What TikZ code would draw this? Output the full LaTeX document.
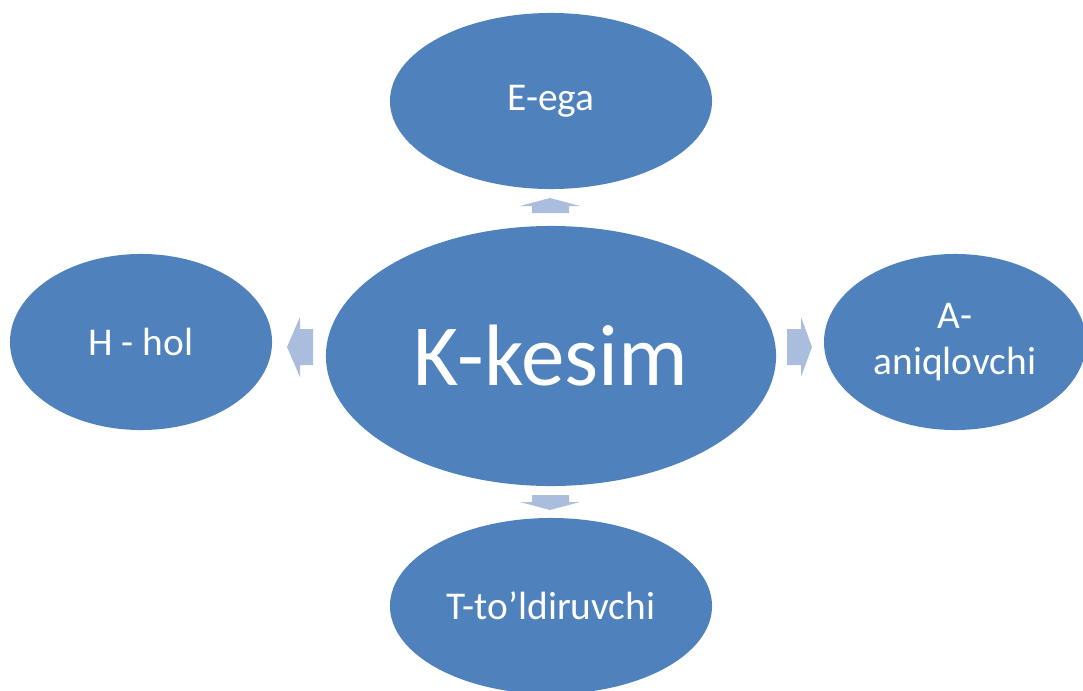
\documentclass[tikz,border=0pt]{standalone}
\usepackage{fontspec}
\setmainfont{Carlito}
\usetikzlibrary{
    positioning,           % Relative positioning
    shapes.geometric       % Ellipses
}
\definecolor{bubbleblue}{RGB}{79,129,189}
\definecolor{arrowblue}{RGB}{170,189,221}
\tikzset{
    bubble/.style={ellipse, fill=bubbleblue, text=white, inner sep=0pt,
        align=center, font=\fontsize{28}{33}\selectfont},
    blockarrow/.style={fill=arrowblue}
}

\begin{document}
\begin{tikzpicture}[x=0.025cm,y=-0.025cm]
    \useasboundingbox (0,0) rectangle (1083,690);
    \node[bubble, minimum width=11.25cm, minimum height=6.5cm,
        font=\fontsize{62}{72}\selectfont] (kesim) at (551,356) {K-kesim};
    \node[bubble, minimum width=8.05cm, minimum height=4.4cm] (ega) at (551,101) {E-ega};
    \node[bubble, minimum width=6.55cm, minimum height=4.4cm] (hol) at (141,342) {H - hol};
    \node[bubble, minimum width=6.55cm, minimum height=4.4cm] (aniq) at (955,342) {A-\\aniqlovchi};
    \node[bubble, minimum width=8.05cm, minimum height=4.4cm] (toldir) at (551,606) {T-to’ldiruvchi};
    % block arrows
    \fill[blockarrow] (532,213) -- (532,206) -- (520,206) -- (550,198) -- (580,206) -- (569,206) -- (569,213) -- cycle;
    \fill[blockarrow] (532,495) -- (532,502) -- (520,502) -- (550,510) -- (580,502) -- (569,502) -- (569,495) -- cycle;
    \fill[blockarrow] (313,329) -- (300,329) -- (300,317) -- (287,347) -- (300,377) -- (300,365) -- (313,365) -- cycle;
    \fill[blockarrow] (787,329) -- (801,329) -- (801,317) -- (812,347) -- (801,377) -- (801,365) -- (787,365) -- cycle;
\end{tikzpicture}
\end{document}
